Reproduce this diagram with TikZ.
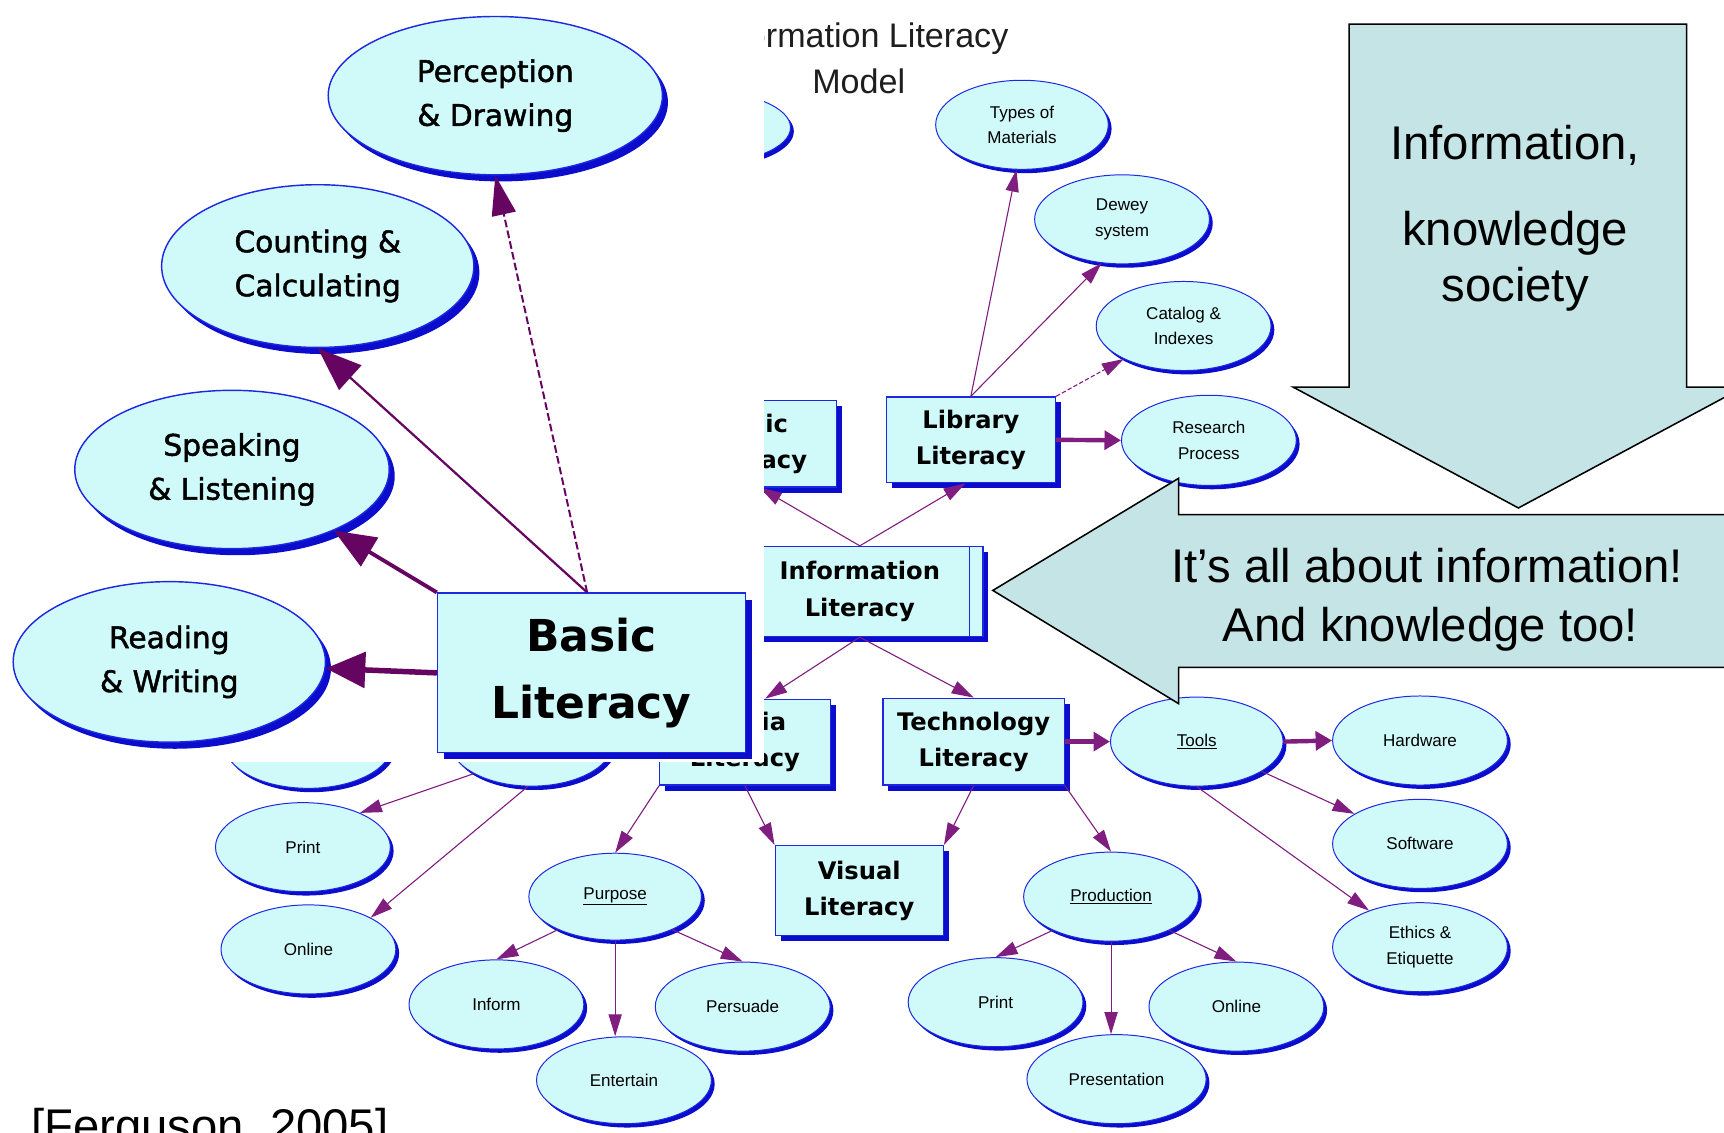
\documentclass[tikz,border=0pt]{standalone}
\usepackage{fontspec}
\setmainfont{Liberation Sans}
\newfontfamily\dvsans{DejaVu Sans}
\newfontfamily\dvheavy{DejaVu Sans}[FakeBold=1.6]
\usetikzlibrary{shapes.geometric,arrows.meta,shadows}

\definecolor{cyanfill}{RGB}{208,250,250}
\definecolor{edgeblue}{RGB}{30,40,225}
\definecolor{shadeblue}{RGB}{12,12,205}
\definecolor{linkpurple}{RGB}{128,30,128}
\definecolor{deeppurple}{RGB}{102,4,98}
\definecolor{calloutfill}{RGB}{196,228,230}
\definecolor{titlegray}{RGB}{30,30,30}

\newcommand\smalltxt{\fontsize{15.5}{23}\selectfont}
\newcommand\bigtxt{\dvheavy\fontsize{27}{40}\selectfont}
\newcommand\boxtxt{\dvsans\bfseries\fontsize{22}{33}\selectfont}
\newcommand\hugetxt{\dvsans\bfseries\fontsize{40}{61}\selectfont}
\newcommand\calltxt{\fontsize{43}{52}\selectfont}
\newcommand\titletxt{\fontsize{31}{42}\selectfont}

\tikzset{
  bubbase/.style={ellipse, draw=edgeblue, fill=cyanfill, inner sep=0pt, align=center},
  bub/.style={bubbase, line width=0.9pt, font=\smalltxt,
    minimum width=159pt, minimum height=81pt,
    drop shadow={shadow xshift=3pt, shadow yshift=-3.5pt, fill=shadeblue, opacity=1}},
  bigbub/.style={bubbase, line width=1.3pt, font=\bigtxt,
    drop shadow={shadow xshift=5pt, shadow yshift=-6pt, fill=shadeblue, opacity=1}},
  boxbase/.style={rectangle, draw=edgeblue, fill=cyanfill, inner sep=0pt, align=center},
  litbox/.style={boxbase, line width=1.1pt, font=\boxtxt,
    drop shadow={shadow xshift=5pt, shadow yshift=-5pt, fill=shadeblue, opacity=1}},
  bigbox/.style={boxbase, line width=1.4pt, font=\hugetxt,
    drop shadow={shadow xshift=6pt, shadow yshift=-6pt, fill=shadeblue, opacity=1}},
  link/.style={draw=linkpurple, line width=1pt, -{Triangle[length=20pt,width=12pt]}},
  thicklink/.style={draw=linkpurple, line width=4pt, -{Triangle[length=15pt,width=17pt]}},
  olthick/.style={draw=deeppurple, line width=5pt, -{Triangle[length=36pt,width=32pt]}},
  olmid/.style={draw=deeppurple, line width=3.5pt, -{Triangle[length=38pt,width=30pt]}},
  olthin/.style={draw=deeppurple, line width=2pt, -{Triangle[length=40pt,width=30pt]}},
  oldash/.style={draw=deeppurple, line width=1.8pt, dash pattern=on 7pt off 3pt,
    -{Triangle[length=36pt,width=22pt]}},
  callout/.style={fill=calloutfill, draw=black, line width=1.4pt, line join=miter},
  calltext/.style={font=\calltxt, anchor=base, inner sep=0pt},
}

\begin{document}
\begin{tikzpicture}[x=1pt,y=-1pt]
\useasboundingbox (0,0) rectangle (1568,1030);
\clip (0,0) rectangle (1568,1030);
\fill[white] (0,0) rectangle (1568,1030);

% ---------- the Information Literacy concept map ----------
\node[font=\titletxt, text=titlegray, anchor=base] (title1) at (781,43) {Information Literacy};
\node[font=\titletxt, text=titlegray, anchor=base] (title2) at (781,85) {Model};

\node[bub, minimum width=160pt, minimum height=66pt] (hidtop) at (639,116) {};
\node[bub, minimum width=153pt] (hidA) at (280.5,676.5) {};
\node[bub, minimum width=149pt] (hidB) at (483.5,674.5) {};

\node[litbox, minimum width=154pt, minimum height=79pt] (basicsmall) at (684,403.5) {Basic\\Literacy};
\node[litbox, minimum width=224pt, minimum height=82pt] (info) at (782,538) {Information\\Literacy};
\draw[draw=edgeblue, line width=1.1pt] ([xshift=-13pt]info.north east) -- ([xshift=-13pt]info.south east);
\node[litbox, minimum width=154pt, minimum height=78pt] (lib) at (883,400) {Library\\Literacy};
\node[litbox, minimum width=155pt, minimum height=78pt] (media) at (677.5,675) {Media\\Literacy};
\node[litbox, minimum width=165pt, minimum height=79pt] (tech) at (885.5,674.5) {Technology\\Literacy};
\node[litbox, minimum width=153pt, minimum height=82pt] (vis) at (781.5,810) {Visual\\Literacy};

\node[bub, minimum width=157pt] (types) at (929.5,113.5) {Types of\\Materials};
\node[bub] (dewey) at (1020.5,199.5) {Dewey\\system};
\node[bub] (catalog) at (1076.5,296.5) {Catalog \&\\Indexes};
\node[bub, minimum height=82pt] (research) at (1099.5,400.5) {Research\\Process};

\node[bub, minimum width=157pt] (tools) at (1088.5,674.5) {\underline{Tools}};
\node[bub] (hardware) at (1291.5,673.5) {Hardware};
\node[bub] (software) at (1291.5,767.5) {Software};
\node[bub] (ethics) at (1291.5,861.5) {Ethics \&\\Etiquette};

\node[bub] (production) at (1010.5,815.5) {\underline{Production}};
\node[bub] (printR) at (905.5,911.5) {Print};
\node[bub] (onlineR) at (1124.5,915.5) {Online};
\node[bub, minimum width=163pt] (presentation) at (1015.5,981.5) {Presentation};

\node[bub, minimum width=157pt, minimum height=79pt] (purpose) at (559.5,815.5) {\underline{Purpose}};
\node[bub] (inform) at (451.5,913.5) {Inform};
\node[bub] (persuade) at (675.5,915.5) {Persuade};
\node[bub, minimum height=79pt] (entertain) at (567.5,982.5) {Entertain};

\node[bub] (printL) at (275.5,770.5) {Print};
\node[bub] (onlineL) at (280.5,863.5) {Online};

% links of the concept map
\draw[link] (info.north) -- (basicsmall.-80);
\draw[link] (info.north) -- (lib.-97);
\draw[link] (info.south) -- (media.65);
\draw[link] (info.south) -- (tech.north);
\draw[link] (lib.north) -- (types.-97);
\draw[link] (lib.north) -- (dewey.-115);
\draw[link, dash pattern=on 4pt off 2pt] (lib.north east) -- (catalog);
\draw[thicklink] (lib.east) -- (research.west);
\draw[thicklink] (tech.east) -- (tools.west);
\draw[thicklink] (tools.east) -- (hardware.west);
\draw[link] (tools) -- (software);
\draw[link] (tools.south) -- (ethics);
\draw[link] (tech.south) -- (vis.north east);
\draw[link] (tech.south east) -- (production.north);
\draw[link] (production.210) -- (printR.north);
\draw[link] (production.south) -- (production.south |- presentation.north);
\draw[link] (production.-30) -- (onlineR.north);
\draw[link] (media.south west) -- (purpose.north);
\draw[link] (media.south) -- (vis.north west);
\draw[link] (purpose.210) -- (inform.north);
\draw[link] (purpose.south) -- (purpose.south |- entertain.north);
\draw[link] (purpose.-30) -- (persuade.north);
\draw[link] (hidB.209) -- (printL.31);
\draw[link] (hidB.265) -- (onlineL.27);

% ---------- enlarged Basic Literacy panel ----------
\fill[white] (0,0) rectangle (695,693);

\node[bigbub, minimum width=304pt, minimum height=144pt] (perc) at (450.5,87) {Perception\\\& Drawing};
\node[bigbub, minimum width=284pt, minimum height=148pt] (count) at (289,242) {Counting \&\\Calculating};
\node[bigbub, minimum width=286pt, minimum height=144pt] (speak) at (211,427) {Speaking\\\& Listening};
\node[bigbub, minimum width=284pt, minimum height=146pt] (read) at (154,602) {Reading\\\& Writing};
\node[bigbox, minimum width=280pt, minimum height=145pt] (basic) at (538,612) {Basic\\Literacy};

\draw[olthick] (basic.west) -- (read);
\draw[olmid] (basic.north west) -- (speak);
\draw[olthin] ([xshift=-4pt]basic.north) -- (count.south);
\draw[oldash] ([xshift=-4pt]basic.north) -- (perc.south);

% ---------- block arrows ----------
\draw[callout] (1227,22) -- (1534,22) -- (1534,352) -- (1586,352) -- (1381,462)
  -- (1176,352) -- (1227,352) -- cycle;
\node[calltext] (soc1) at (1378,145) {Information,};
\node[calltext] (soc2) at (1378,223) {knowledge};
\node[calltext] (soc3) at (1378,274) {society};

\draw[callout] (903,537) -- (1072,435) -- (1072,468) -- (1600,468) -- (1600,607)
  -- (1072,607) -- (1072,640) -- cycle;
\node[calltext] (all1) at (1298,530) {It’s all about information!};
\node[calltext] (all2) at (1301,583) {And knowledge too!};

\node[font=\calltxt, anchor=base west, inner sep=0pt] (cite) at (28,1039) {[Ferguson, 2005]};
\end{tikzpicture}
\end{document}
